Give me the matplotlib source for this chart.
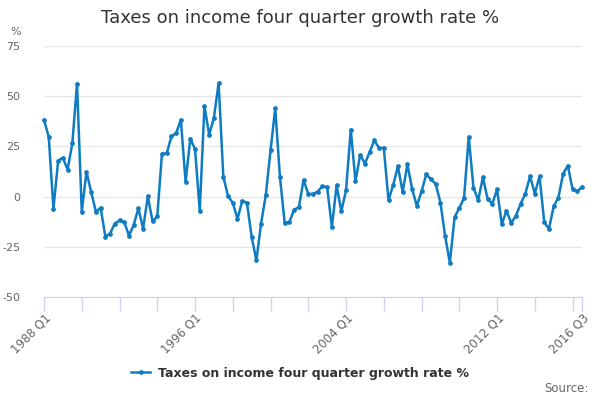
import matplotlib
matplotlib.use("Agg")
from matplotlib import pyplot as plt

# quarterly values, 1988 Q1 .. 2016 Q3
growthRate = [
    38.2, 29.8, -6.0, 17.9, 19.4, 13.4, 26.5, 56.3,
    -7.5, 12.3, 2.2, -7.6, -5.6, -19.9, -18.4, -13.4,
    -11.9, -12.6, -19.4, -14.2, -5.8, -15.9, 0.2, -12.4,
    -9.8, 21.4, 21.5, 30.0, 31.6, 38.2, 7.3, 28.8,
    23.7, -7.0, 45.2, 30.8, 39.2, 56.5, 9.9, 0.2,
    -3.1, -11.1, -2.2, -3.1, -20.0, -31.8, -13.4, 0.8,
    23.0, 44.0, 9.6, -13.1, -12.7, -6.5, -5.3, 8.3,
    1.3, 1.3, 2.5, 5.3, 4.6, -15.2, 5.6, -7.3,
    3.1, 33.4, 7.6, 20.9, 16.4, 22.2, 28.0, 24.2,
    24.2, -1.8, 5.8, 15.1, 2.2, 16.1, 3.8, -4.6,
    2.6, 11.1, 8.6, 6.3, -3.0, -19.7, -33.0, -10.3,
    -5.6, -0.8, 29.8, 4.5, -1.8, 9.6, -1.2, -3.5,
    3.6, -13.7, -7.1, -13.1, -9.6, -3.5, 1.5, 10.1,
    1.5, 10.1, -12.7, -16.1, -4.8, -0.5, 11.4, 15.4,
    3.6, 2.6, 4.8,
]
quarters = [str(1988 + i // 4) + " Q" + str(i % 4 + 1) for i in range(len(growthRate))]
labelledQuarters = ["1988 Q1", "1996 Q1", "2004 Q1", "2012 Q1", "2016 Q3"]
yTicks = [-50, -25, 0, 25, 50, 75]

LINE_COLOR = "#0f7cc2"
AXIS_COLOR = "#ccd6eb"
TEXT_COLOR = "#666666"

fig = plt.figure(figsize=(6, 4), dpi=100)
ax = fig.add_axes([44 / 600, 1 - 297 / 400, 538 / 600, 251 / 400])

for side in ["top", "right", "left"]:
    ax.spines[side].set_visible(False)
ax.spines["bottom"].set_color(AXIS_COLOR)

xAxis = range(len(growthRate))
ax.plot(xAxis, growthRate, color=LINE_COLOR, linewidth=1.8, marker="o",
        markersize=2.4, clip_on=False, zorder=3)

ax.set_xlim(0, len(growthRate) - 1)
ax.set_ylim(-50, 75)

ax.set_yticks(yTicks)
ax.set_yticklabels([str(t) for t in yTicks], color=TEXT_COLOR, fontsize=8)
ax.tick_params(axis="y", length=0, pad=17)
ax.grid(axis="y", color="#e6e6e6", linewidth=1)
ax.set_axisbelow(True)

tickPositions = list(range(0, len(growthRate), 8)) + [len(growthRate) - 1]
ax.set_xticks(tickPositions)
tickLabels = [quarters[p] if quarters[p] in labelledQuarters else "" for p in tickPositions]
ax.tick_params(axis="x", length=10, width=1, color=AXIS_COLOR, pad=0)
ax.set_xticklabels(tickLabels, rotation=45, ha="right", rotation_mode="anchor",
                   color=TEXT_COLOR, fontsize=8.5)

fig.text(0.5, 1 - 18 / 400, "Taxes on income four quarter growth rate %",
         ha="center", va="center", fontsize=13, color="#333333")
fig.text(10 / 600, 1 - 32 / 400, "%", ha="left", va="center", fontsize=8, color=TEXT_COLOR)

leg = fig.legend([ax.lines[0]], ["Taxes on income four quarter growth rate %"],
                 loc="center", bbox_to_anchor=(0.5, 1 - 373 / 400), frameon=False,
                 handlelength=1.5, handletextpad=0.6, prop={"weight": "bold", "size": 9})
for t in leg.get_texts():
    t.set_color("#333333")

fig.text(589 / 600, 1 - 389 / 400, "Source:", ha="right", va="center",
         fontsize=8.5, color=TEXT_COLOR)

fig.savefig("out.png", dpi=100)
plt.close()
